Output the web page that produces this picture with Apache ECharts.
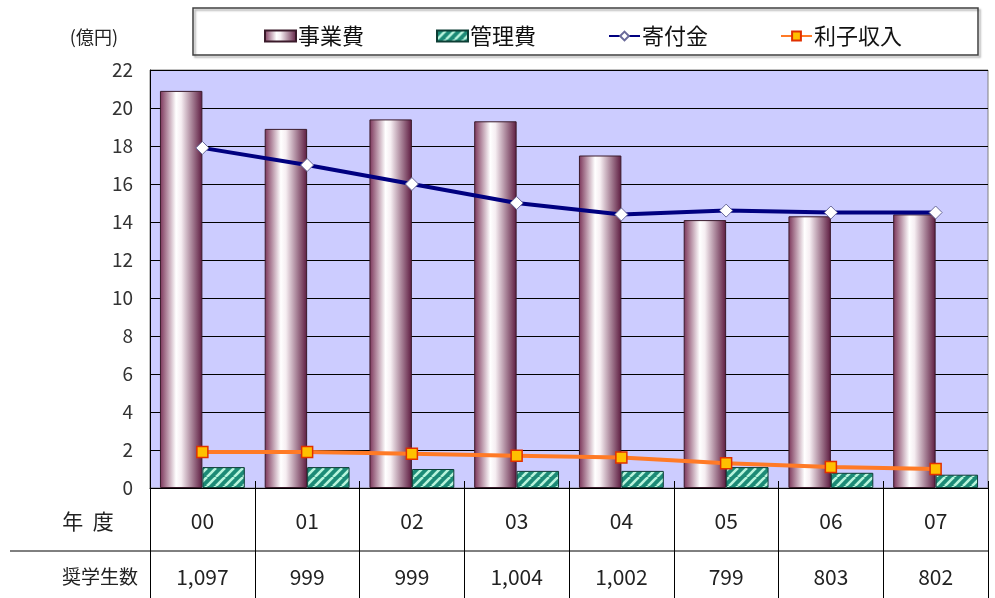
<!DOCTYPE html>
<html>
<head>
<meta charset="utf-8">
<script src="https://cdn.jsdelivr.net/npm/echarts@6/dist/echarts.min.js"></script>
<style>
html,body{margin:0;padding:0;background:#fff;}
#c{width:995px;height:598px;}
</style>
</head>
<body>
<div id="c"></div>
<script>
const years = ['00','01','02','03','04','05','06','07'];
const jigyouhi = [20.9, 18.9, 19.4, 19.3, 17.5, 14.1, 14.3, 14.4];
const kanrihi = [1.1, 1.1, 1.0, 0.9, 0.9, 1.1, 0.8, 0.7];
const kifukin = [17.9, 17.0, 16.0, 15.0, 14.4, 14.6, 14.5, 14.5];
const rishi = [1.9, 1.9, 1.8, 1.7, 1.6, 1.3, 1.1, 1.0];
const students = [1097, 999, 999, 1004, 1002, 799, 803, 802];
const yTicks = {min: 0, max: 22, interval: 2};

const FONT = '"Noto Sans CJK JP", "Noto Sans", sans-serif';

// stripe pattern for 管理費
const s = 9;
const pc = document.createElement('canvas');
pc.width = s; pc.height = s;
const g = pc.getContext('2d');
g.fillStyle = '#1c8a76';
g.fillRect(0, 0, s, s);
g.strokeStyle = '#b8f4dc';
g.lineWidth = 2.6;
for (const k of [-s, 0, s]) {
  g.beginPath();
  g.moveTo(k, s);
  g.lineTo(k + s, 0);
  g.stroke();
}

const barGrad = new echarts.graphic.LinearGradient(0, 0, 1, 0, [
  {offset: 0, color: '#7a3358'},
  {offset: 0.38, color: '#ffffff'},
  {offset: 0.5, color: '#f6eef2'},
  {offset: 1, color: '#5c1a3f'}
]);

const chart = echarts.init(document.getElementById('c'), null, {renderer: 'canvas'});
chart.setOption({
  animation: false,
  backgroundColor: '#ffffff',
  textStyle: {fontFamily: FONT},
  grid: {left: 150, right: 7, top: 70, bottom: 110, show: true,
         backgroundColor: '#ccccff', borderColor: '#808080', borderWidth: 1},
  legend: {
    data: [
      {name: '事業費', icon: 'rect'},
      {name: '管理費', icon: 'rect'},
      {name: '寄付金'},
      {name: '利子収入'}
    ],
    left: 259, top: 20,
    itemWidth: 31, itemHeight: 11,
    itemGap: 72,
    textStyle: {fontFamily: FONT, fontSize: 22, color: '#111', padding: [0,0,0,-3]}
  },
  graphic: [
    {type: 'rect', shape: {x: 193, y: 8, width: 785, height: 47},
     style: {fill: 'transparent', stroke: '#404040', lineWidth: 1.5,
             shadowBlur: 2, shadowOffsetX: 2, shadowOffsetY: 2, shadowColor: '#aaa'}, z: -1},
    {type: 'line', shape: {x1: 10, y1: 551, x2: 988, y2: 551},
     style: {stroke: '#000', lineWidth: 1}},
    {type: 'text', x: 88, y: 521,
     style: {text: '年  度', font: '21px ' + FONT, fill: '#222', align: 'center', verticalAlign: 'middle'}},
    {type: 'text', x: 138, y: 577,
     style: {text: '奨学生数', font: '19px ' + FONT, fill: '#222', align: 'right', verticalAlign: 'middle'}}
  ],
  xAxis: [{
    type: 'category',
    data: years,
    position: 'bottom',
    axisLine: {show: true, lineStyle: {color: '#000', width: 1}},
    axisTick: {show: true, length: 110, lineStyle: {color: '#000', width: 1}},
    axisLabel: {
      margin: 5,
      formatter: function (v, i) {
        return '{y|' + v + '}\n{n|' + students[i].toLocaleString('en-US') + '}';
      },
      rich: {
        y: {fontSize: 21, lineHeight: 56, color: '#222', fontFamily: FONT},
        n: {fontSize: 21, lineHeight: 56, color: '#222', fontFamily: FONT}
      }
    }
  }, {
    type: 'category',
    data: years,
    position: 'bottom',
    axisLine: {show: false},
    axisTick: {show: true, inside: true, length: 7, lineStyle: {color: '#000'}},
    axisLabel: {show: false}
  }],
  yAxis: {
    type: 'value',
    min: yTicks.min, max: yTicks.max, interval: yTicks.interval,
    name: '(億円)',
    nameLocation: 'end',
    nameGap: 24,
    nameTextStyle: {fontFamily: FONT, fontSize: 18, color: '#222', align: 'right', padding: [0, 32, 0, 0]},
    axisLine: {show: true, lineStyle: {color: '#000'}},
    axisTick: {show: false},
    splitLine: {show: true, lineStyle: {color: '#000', width: 1}},
    axisLabel: {fontSize: 19, color: '#333', margin: 17, fontFamily: FONT}
  },
  series: [
    {name: '事業費', type: 'bar', data: jigyouhi, barGap: '0%', barCategoryGap: '19%',
     itemStyle: {color: barGrad, borderColor: '#3a1a2a', borderWidth: 1}},
    {name: '管理費', type: 'bar', data: kanrihi,
     itemStyle: {color: {image: pc, repeat: 'repeat'}, borderColor: '#0d3d34', borderWidth: 1}},
    {name: '寄付金', type: 'line', data: kifukin, z: 5,
     lineStyle: {color: '#000080', width: 4},
     itemStyle: {color: '#ffffff', borderColor: '#6a6a9a', borderWidth: 1},
     symbol: 'diamond', symbolSize: 13, showAllSymbol: true},
    {name: '利子収入', type: 'line', data: rishi, z: 6,
     lineStyle: {color: '#ff7a26', width: 4},
     itemStyle: {color: '#ffc000', borderColor: '#e03000', borderWidth: 1.5},
     symbol: 'rect', symbolSize: 11, showAllSymbol: true}
  ]
});
</script>
</body>
</html>
